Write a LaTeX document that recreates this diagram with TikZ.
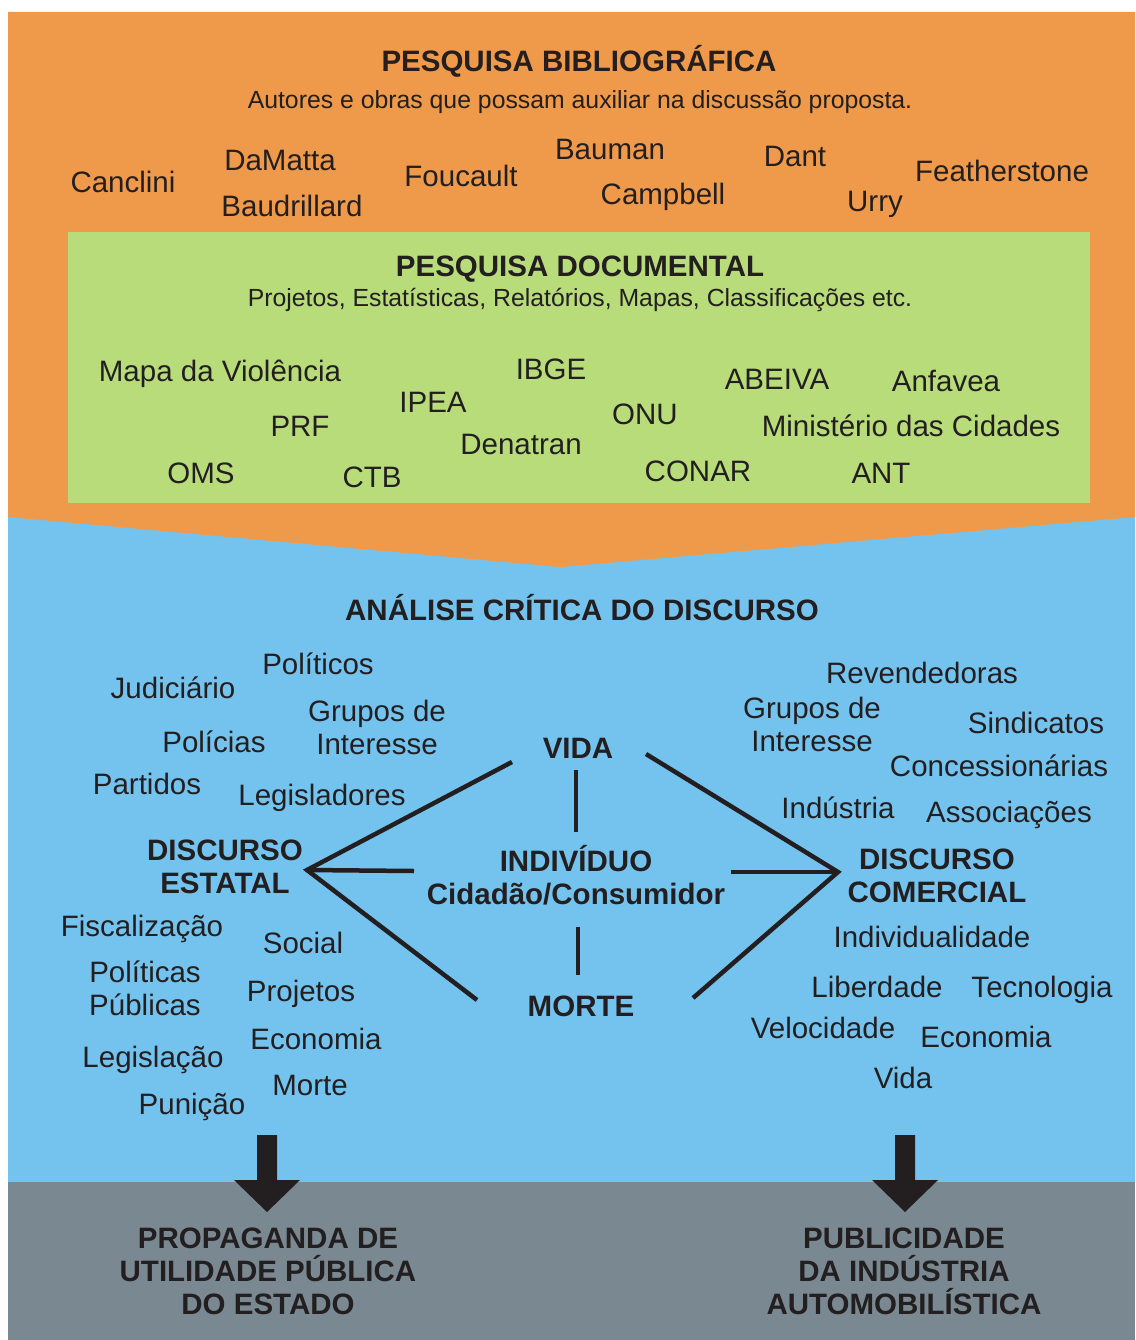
\documentclass[tikz,border=0pt]{standalone}
\usepackage{fontspec}
\setmainfont{Liberation Sans}
\definecolor{ink}{RGB}{35,31,32}
\definecolor{panelorange}{RGB}{239,154,74}
\definecolor{panelgreen}{RGB}{184,220,122}
\definecolor{panelblue}{RGB}{116,195,238}
\definecolor{panelgray}{RGB}{122,137,145}
\tikzset{
  word/.style={font=\fontsize{29.5}{33}\selectfont, text=ink, inner sep=0pt,
    text height=21pt, text depth=0pt},
  wordlines/.style={font=\fontsize{29.5}{33}\selectfont, text=ink, inner sep=0pt,
    align=center},
  head/.style={word, font=\fontsize{29.5}{33}\selectfont\bfseries},
  headlines/.style={wordlines, font=\fontsize{29.5}{33}\selectfont\bfseries},
  subline/.style={font=\fontsize{24.8}{28}\selectfont, text=ink, inner sep=0pt,
    text height=17.5pt, text depth=0pt},
  link/.style={draw=ink, line width=4.5pt},
  downarrow/.pic={\fill[ink] (-10,0) -- (10,0) -- (10,45) -- (33,45) -- (0,77)
    -- (-33,45) -- (-10,45) -- cycle;}
}
\begin{document}
\begin{tikzpicture}[x=1pt,y=-1pt]
\useasboundingbox (0,0) rectangle (1135,1340);
\fill[white] (0,0) rectangle (1135,1340);

% background bands
\fill[panelblue] (8,510) rectangle (1135,1182);
\fill[panelgray] (8,1182) rectangle (1135,1340);
\fill[panelorange] (8,12) -- (1135,12) -- (1135,517) -- (560,567) -- (8,517) -- cycle;
\fill[panelgreen] (68,232) rectangle (1090,503);

% bibliographic research
\node[head] (bib) at (579,61) {PESQUISA BIBLIOGRÁFICA};
\node[subline] (bibsub) at (580,100) {Autores e obras que possam auxiliar na discussão proposta.};
\node[word] (canclini) at (123,182) {Canclini};
\node[word] (damatta) at (280,160) {DaMatta};
\node[word] (baudrillard) at (292,206) {Baudrillard};
\node[word] (foucault) at (461,176) {Foucault};
\node[word] (bauman) at (610,149) {Bauman};
\node[word] (campbell) at (663,194) {Campbell};
\node[word] (dant) at (795,156) {Dant};
\node[word] (urry) at (875,201) {Urry};
\node[word] (featherstone) at (1002,171) {Featherstone};

% documentary research
\node[head] (doc) at (580,266) {PESQUISA DOCUMENTAL};
\node[subline] (docsub) at (580,298) {Projetos, Estatísticas, Relatórios, Mapas, Classificações etc.};
\node[word] (mapa) at (220,371) {Mapa da Violência};
\node[word] (ibge) at (551,369) {IBGE};
\node[word] (ipea) at (433,402) {IPEA};
\node[word] (prf) at (300,426) {PRF};
\node[word] (denatran) at (521,444) {Denatran};
\node[word] (onu) at (645,414) {ONU};
\node[word] (abeiva) at (777,379) {ABEIVA};
\node[word] (anfavea) at (946,381) {Anfavea};
\node[word] (ministerio) at (911,426) {Ministério das Cidades};
\node[word] (oms) at (201,473) {OMS};
\node[word] (ctb) at (372,477) {CTB};
\node[word] (conar) at (698,471) {CONAR};
\node[word] (ant) at (881,473) {ANT};

% critical discourse analysis
\node[head] (acd) at (582,610) {ANÁLISE CRÍTICA DO DISCURSO};

% state discourse
\node[word] (politicos) at (318,664) {Políticos};
\node[word] (judiciario) at (173,688) {Judiciário};
\node[wordlines] (gruposE) at (377,727) {Grupos de\\Interesse};
\node[word] (policias) at (214,742) {Polícias};
\node[word] (partidos) at (147,784) {Partidos};
\node[word] (legisladores) at (322,795) {Legisladores};
\node[headlines] (estatal) at (225,867) {DISCURSO\\ESTATAL};
\node[word] (fiscalizacao) at (142,926) {Fiscalização};
\node[word] (social) at (303,943) {Social};
\node[wordlines] (publicas) at (145,988) {Políticas\\Públicas};
\node[word] (projetos) at (301,991) {Projetos};
\node[word] (economiaE) at (316,1039) {Economia};
\node[word] (legislacao) at (153,1057) {Legislação};
\node[word] (morteE) at (310,1085) {Morte};
\node[word] (punicao) at (192,1104) {Punição};

% centre
\node[head] (vida) at (578,748) {VIDA};
\node[headlines] (individuo) at (576,875) {INDIVÍDUO\\Cidadão/Consumidor};
\node[head] (morte) at (581,1006) {MORTE};

% commercial discourse
\node[word] (revendedoras) at (922,673) {Revendedoras};
\node[wordlines] (gruposC) at (812,724) {Grupos de\\Interesse};
\node[word] (sindicatos) at (1036,723) {Sindicatos};
\node[word] (concessionarias) at (999,766) {Concessionárias};
\node[word] (industria) at (838,808) {Indústria};
\node[word] (associacoes) at (1009,812) {Associações};
\node[headlines] (comercial) at (937,876) {DISCURSO\\COMERCIAL};
\node[word] (individualidade) at (932,937) {Individualidade};
\node[word] (liberdade) at (877,987) {Liberdade};
\node[word] (tecnologia) at (1042,987) {Tecnologia};
\node[word] (velocidade) at (823,1028) {Velocidade};
\node[word] (economiaC) at (986,1037) {Economia};
\node[word] (vidaC) at (903,1078) {Vida};

% connector end points
\coordinate (apexE) at (307,870);
\coordinate (apexC) at (838,872);
\coordinate (vidaL) at (512,762);
\coordinate (vidaR) at (646,754);
\coordinate (vidaB) at (576,770);
\coordinate (indT) at (576,832);
\coordinate (indB) at (578,927);
\coordinate (morteT) at (578,975);
\coordinate (indL) at (414,871);
\coordinate (indR) at (731,872);
\coordinate (morteL) at (477,1000);
\coordinate (morteR) at (693,998);

\draw[link] (vidaL) -- (apexE) -- (morteL);
\draw[link] (apexE) -- (indL);
\draw[link] (vidaR) -- (apexC) -- (morteR);
\draw[link] (apexC) -- (indR);
\draw[link] (vidaB) -- (indT);
\draw[link] (indB) -- (morteT);

% outcomes
\pic at (267,1135) {downarrow};
\pic at (905,1135) {downarrow};
\node[headlines] (propaganda) at (268,1271) {PROPAGANDA DE\\UTILIDADE PÚBLICA\\DO ESTADO};
\node[headlines] (publicidade) at (904,1271) {PUBLICIDADE\\DA INDÚSTRIA\\AUTOMOBILÍSTICA};
\end{tikzpicture}
\end{document}
